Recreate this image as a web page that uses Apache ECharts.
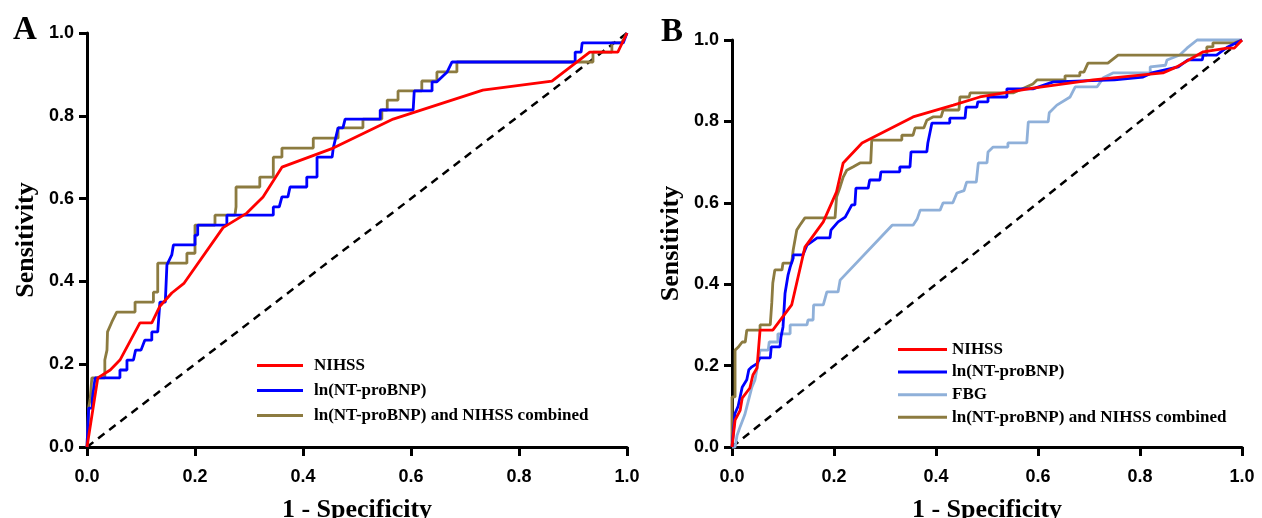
<!DOCTYPE html>
<html>

<head>
    <meta charset="utf-8">
    <title>ROC curves</title>
    <script src="https://cdn.jsdelivr.net/npm/echarts@6/dist/echarts.min.js"></script>
</head>

<body style="margin:0">
    <div id="main" style="width: 1262px;height:518px;"></div>
    <script type="text/javascript">
        // tick labels shared by both panels
        var ticks = [0, 0.2, 0.4, 0.6, 0.8, 1.0];
        var diagonal = [[0, 0], [1, 1]];

        // Panel A: [1 - specificity, sensitivity]
        var aNihss = [[0, 0], [0.02, 0.167], [0.043, 0.186], [0.061, 0.21], [0.098, 0.30], [0.12, 0.30], [0.135, 0.34],
            [0.157, 0.372], [0.18, 0.396], [0.252, 0.53], [0.296, 0.565], [0.326, 0.604], [0.361, 0.676], [0.456, 0.722],
            [0.567, 0.792], [0.733, 0.862], [0.861, 0.884], [0.931, 0.954], [0.983, 0.954], [1, 1]];
        var aBnp = [[0, 0], [0.003, 0.094], [0.01, 0.094], [0.01, 0.118], [0.015, 0.167], [0.061, 0.167], [0.061, 0.186],
            [0.074, 0.186], [0.074, 0.21], [0.086, 0.21], [0.09, 0.234], [0.1, 0.234], [0.107, 0.258], [0.12, 0.258],
            [0.12, 0.278], [0.131, 0.278], [0.135, 0.35], [0.145, 0.35], [0.148, 0.44], [0.157, 0.464], [0.16, 0.488],
            [0.2, 0.488], [0.2, 0.512], [0.205, 0.512], [0.205, 0.536], [0.259, 0.536], [0.259, 0.56], [0.345, 0.56],
            [0.345, 0.58], [0.356, 0.58], [0.361, 0.604], [0.372, 0.604], [0.376, 0.628], [0.407, 0.628], [0.407, 0.652],
            [0.426, 0.652], [0.426, 0.70], [0.454, 0.70], [0.456, 0.722], [0.465, 0.771], [0.474, 0.771], [0.478, 0.792],
            [0.543, 0.792], [0.543, 0.814], [0.604, 0.814], [0.606, 0.86], [0.639, 0.86], [0.639, 0.882], [0.648, 0.882],
            [0.667, 0.906], [0.676, 0.93], [0.904, 0.93], [0.904, 0.954], [0.915, 0.954], [0.917, 0.976], [0.993, 0.976],
            [1, 1]];
        var aCombined = [[0, 0], [0.003, 0.094], [0.006, 0.118], [0.009, 0.167], [0.033, 0.167], [0.033, 0.21],
            [0.037, 0.234], [0.038, 0.278], [0.046, 0.302], [0.055, 0.326], [0.089, 0.326], [0.089, 0.35], [0.123, 0.35],
            [0.123, 0.374], [0.131, 0.374], [0.131, 0.444], [0.185, 0.444], [0.185, 0.468], [0.2, 0.468], [0.2, 0.536],
            [0.237, 0.536], [0.237, 0.56], [0.274, 0.56], [0.276, 0.58], [0.276, 0.628], [0.32, 0.628], [0.32, 0.652],
            [0.345, 0.652], [0.345, 0.70], [0.361, 0.70], [0.361, 0.722], [0.419, 0.722], [0.419, 0.746], [0.465, 0.746],
            [0.465, 0.771], [0.511, 0.771], [0.511, 0.792], [0.546, 0.792], [0.546, 0.814], [0.556, 0.814],
            [0.556, 0.838], [0.576, 0.838], [0.576, 0.86], [0.62, 0.86], [0.62, 0.884], [0.648, 0.884], [0.648, 0.906],
            [0.685, 0.906], [0.685, 0.93], [0.937, 0.93], [0.937, 0.954], [0.972, 0.954], [0.972, 0.976], [0.99, 0.976],
            [1, 1]];

        // Panel B: [1 - specificity, sensitivity]
        var bNihss = [[0, 0], [0.006, 0.066], [0.016, 0.09], [0.02, 0.12], [0.035, 0.145], [0.041, 0.177], [0.049, 0.194],
            [0.055, 0.287], [0.08, 0.287], [0.117, 0.349], [0.143, 0.491], [0.179, 0.553], [0.205, 0.627], [0.218, 0.698],
            [0.255, 0.747], [0.355, 0.811], [0.434, 0.84], [0.486, 0.86], [0.59, 0.882], [0.708, 0.902], [0.845, 0.919],
            [0.872, 0.934], [0.924, 0.971], [0.971, 0.98], [0.985, 0.98], [1, 1]];
        var bBnp = [[0, 0], [0.006, 0.083], [0.012, 0.1], [0.02, 0.147], [0.029, 0.165], [0.033, 0.19], [0.039, 0.197],
            [0.049, 0.205], [0.055, 0.219], [0.075, 0.219], [0.077, 0.246], [0.094, 0.246], [0.096, 0.27], [0.1, 0.295],
            [0.104, 0.378], [0.11, 0.423], [0.114, 0.442], [0.12, 0.464], [0.12, 0.472], [0.139, 0.472], [0.147, 0.496],
            [0.167, 0.514], [0.192, 0.514], [0.194, 0.533], [0.208, 0.553], [0.222, 0.565], [0.235, 0.595], [0.241, 0.595],
            [0.243, 0.636], [0.267, 0.636], [0.27, 0.656], [0.29, 0.656], [0.292, 0.676], [0.329, 0.676], [0.329, 0.688],
            [0.349, 0.688], [0.351, 0.725], [0.382, 0.725], [0.384, 0.747], [0.392, 0.796], [0.427, 0.796],
            [0.427, 0.808], [0.457, 0.808], [0.459, 0.835], [0.48, 0.835], [0.482, 0.848], [0.502, 0.848], [0.502, 0.86],
            [0.539, 0.86], [0.539, 0.88], [0.59, 0.88], [0.63, 0.897], [0.75, 0.902], [0.806, 0.909], [0.823, 0.919],
            [0.875, 0.934], [0.894, 0.951], [0.922, 0.951], [0.924, 0.963], [0.95, 0.963], [0.972, 0.983], [1, 1]];
        var bFbg = [[0, 0], [0.006, 0], [0.01, 0.029], [0.016, 0.05], [0.025, 0.079], [0.039, 0.147], [0.045, 0.165],
            [0.051, 0.206], [0.055, 0.238], [0.071, 0.238], [0.073, 0.258], [0.09, 0.258], [0.09, 0.278], [0.114, 0.278],
            [0.114, 0.3], [0.147, 0.3], [0.149, 0.312], [0.159, 0.312], [0.16, 0.349], [0.179, 0.349], [0.186, 0.381],
            [0.208, 0.381], [0.212, 0.41], [0.314, 0.545], [0.355, 0.545], [0.363, 0.56], [0.369, 0.582], [0.408, 0.582],
            [0.414, 0.6], [0.433, 0.6], [0.441, 0.624], [0.455, 0.63], [0.46, 0.651], [0.479, 0.651], [0.483, 0.698],
            [0.5, 0.698], [0.502, 0.725], [0.512, 0.737], [0.541, 0.737], [0.541, 0.747], [0.578, 0.747], [0.581, 0.799],
            [0.62, 0.799], [0.622, 0.821], [0.637, 0.84], [0.663, 0.86], [0.673, 0.885], [0.716, 0.885], [0.728, 0.907],
            [0.747, 0.919], [0.82, 0.919], [0.82, 0.934], [0.85, 0.938], [0.853, 0.951], [0.878, 0.963], [0.892, 0.98],
            [0.912, 1.0], [1, 1]];
        var bCombined = [[0, 0], [0, 0.123], [0.006, 0.123], [0.006, 0.238], [0.012, 0.245], [0.02, 0.258],
            [0.026, 0.258], [0.029, 0.287], [0.055, 0.287], [0.055, 0.3], [0.075, 0.3], [0.078, 0.354], [0.08, 0.403],
            [0.084, 0.435], [0.098, 0.435], [0.1, 0.452], [0.117, 0.452], [0.12, 0.484], [0.127, 0.533], [0.133, 0.545],
            [0.143, 0.563], [0.202, 0.563], [0.205, 0.614], [0.212, 0.639], [0.218, 0.663], [0.225, 0.68], [0.237, 0.688],
            [0.251, 0.698], [0.272, 0.698], [0.274, 0.754], [0.333, 0.754], [0.333, 0.766], [0.355, 0.766],
            [0.359, 0.784], [0.376, 0.784], [0.382, 0.803], [0.394, 0.811], [0.41, 0.811], [0.414, 0.828], [0.445, 0.828],
            [0.447, 0.86], [0.465, 0.86], [0.467, 0.87], [0.551, 0.87], [0.59, 0.892], [0.598, 0.902], [0.653, 0.902],
            [0.653, 0.912], [0.682, 0.912], [0.682, 0.921], [0.69, 0.921], [0.698, 0.943], [0.737, 0.943],
            [0.757, 0.963], [0.931, 0.963], [0.931, 0.983], [0.943, 0.983], [0.943, 0.993], [0.985, 0.993], [1, 1]];

        var RED = '#ff0000', BLUE = '#0000ff', OLIVE = '#8c7b40', STEEL = '#8fb0d9';
        var serif = '"Liberation Serif", "Times New Roman", serif';
        var sans = '"Liberation Sans", Arial, sans-serif';

        function xAxisFor(i) {
            return {
                type: 'value', gridIndex: i, min: 0, max: 1, interval: 0.2,
                name: '1 - Specificity', nameLocation: 'middle', nameGap: 50,
                nameTextStyle: { fontFamily: serif, fontWeight: 'bold', fontSize: 26, color: '#000' },
                axisLine: { lineStyle: { color: '#000', width: 3 } },
                axisTick: { length: 9, lineStyle: { width: 3, color: '#000' } },
                axisLabel: {
                    color: '#000', fontFamily: sans, fontWeight: 'bold', fontSize: 18, margin: 21,
                    formatter: function (v) { return v.toFixed(1); }
                },
                splitLine: { show: false }
            };
        }
        function yAxisFor(i) {
            return {
                type: 'value', gridIndex: i, min: 0, max: 1, interval: 0.2,
                name: 'Sensitivity', nameLocation: 'middle', nameGap: 48,
                nameTextStyle: { fontFamily: serif, fontWeight: 'bold', fontSize: 26, color: '#000' },
                axisLine: { show: true, lineStyle: { color: '#000', width: 3 } },
                axisTick: { show: true, length: 8, lineStyle: { width: 3, color: '#000' } },
                axisLabel: {
                    color: '#000', fontFamily: sans, fontWeight: 'bold', fontSize: 18, margin: 13,
                    formatter: function (v) { return v.toFixed(1); }
                },
                splitLine: { show: false }
            };
        }
        function curve(name, data, color, i) {
            return {
                name: name, type: 'line', xAxisIndex: i, yAxisIndex: i, data: data,
                symbol: 'none', animation: false, clip: false,
                lineStyle: { color: color, width: 2.8 }, itemStyle: { color: color }
            };
        }

        var myChart = echarts.init(document.getElementById('main'));
        myChart.setOption({
            backgroundColor: '#fff',
            animation: false,
            title: [
                { text: 'A', left: 8, top: 9, textStyle: { fontFamily: serif, fontWeight: 'bold', fontSize: 33, color: '#000' } },
                { text: 'B', left: 656, top: 11, textStyle: { fontFamily: serif, fontWeight: 'bold', fontSize: 33, color: '#000' } }
            ],
            grid: [
                { left: 87, top: 33, width: 540, height: 414, outerBoundsMode: 'none', containLabel: false },
                { left: 732, top: 40, width: 510, height: 407, outerBoundsMode: 'none', containLabel: false }
            ],
            xAxis: [xAxisFor(0), xAxisFor(1)],
            yAxis: [yAxisFor(0), yAxisFor(1)],
            legend: [
                {
                    data: ['NIHSS', 'ln(NT-proBNP)', 'ln(NT-proBNP) and NIHSS combined'],
                    orient: 'vertical', left: 252, top: 352, itemWidth: 46, itemHeight: 3, icon: 'rect', itemGap: 8,
                    textStyle: { fontFamily: serif, fontWeight: 'bold', fontSize: 17, color: '#000', padding: [0, 0, 0, 6] }
                },
                {
                    data: ['NIHSS', 'ln(NT-proBNP)', 'FBG', 'ln(NT-proBNP) and NIHSS combined'],
                    orient: 'vertical', left: 893, top: 336, itemWidth: 49, itemHeight: 3, icon: 'rect', itemGap: 5.6,
                    textStyle: { fontFamily: serif, fontWeight: 'bold', fontSize: 17, color: '#000' }
                }
            ],
            series: [
                {
                    type: 'line', xAxisIndex: 0, yAxisIndex: 0, data: diagonal, symbol: 'none',
                    lineStyle: { color: '#000', width: 2.5, type: [8, 6] }
                },
                curve('ln(NT-proBNP) and NIHSS combined', aCombined, OLIVE, 0),
                curve('ln(NT-proBNP)', aBnp, BLUE, 0),
                curve('NIHSS', aNihss, RED, 0),
                {
                    type: 'line', xAxisIndex: 1, yAxisIndex: 1, data: diagonal, symbol: 'none',
                    lineStyle: { color: '#000', width: 2.5, type: [8, 6] }
                },
                curve('FBG', bFbg, STEEL, 1),
                curve('ln(NT-proBNP) and NIHSS combined', bCombined, OLIVE, 1),
                curve('ln(NT-proBNP)', bBnp, BLUE, 1),
                curve('NIHSS', bNihss, RED, 1)
            ]
        });
    </script>
</body>

</html>
